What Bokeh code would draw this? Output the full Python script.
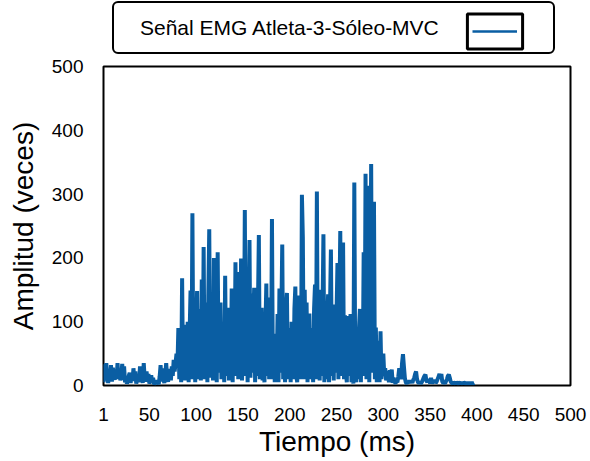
from bokeh.plotting import figure
from bokeh.layouts import column
from bokeh.models import Range1d, FixedTicker, Legend, LegendItem
from bokeh.core.properties import value
from bokeh.embed import file_html
from bokeh.resources import INLINE

reposo = [
    5, 33, 8, 35, 12, 4, 20, 10, 32, 6, 28, 15, 9, 25, 12, 35, 10, 22, 8, 14,
    34, 9, 30, 5, 12, 3, 8, 15, 20, 4, 18, 7, 27, 10, 22, 3, 9, 15, 5, 30,
    8, 18, 4, 35, 12, 6, 22, 10, 18, 3, 8, 16, 5, 12, 2, 4, 8, 3, 6, 2,
    14, 32, 6, 27, 10, 4, 18, 35, 12, 6, 20, 26, 8, 30, 15, 40, 22, 35, 50, 30,
]
activacion = [
    90, 10, 60, 5, 168, 15, 70, 8, 95, 12, 100, 5, 80, 149, 10, 270, 20, 120, 5, 90,
    148, 10, 110, 120, 8, 166, 15, 217, 10, 100, 130, 5, 140, 245, 12, 110, 95, 8, 200, 15,
    150, 5, 209, 20, 120, 130, 10, 100, 85, 5, 172, 15, 110, 122, 8, 90, 20, 152, 5, 100,
    15, 193, 40, 178, 10, 130, 20, 199, 8, 60, 15, 275, 20, 140, 5, 110, 228, 12, 144, 20,
    100, 153, 5, 100, 15, 120, 236, 10, 80, 122, 8, 38, 5, 90, 160, 15, 138, 10, 100, 20,
    261, 10, 80, 5, 81, 12, 112, 5, 152, 20, 110, 221, 10, 83, 5, 120, 145, 10, 90, 65,
    5, 100, 84, 10, 120, 155, 15, 5, 141, 20, 110, 10, 299, 231, 10, 150, 20, 130, 5, 100,
    113, 10, 90, 59, 5, 120, 158, 10, 304, 20, 100, 8, 150, 15, 110, 237, 5, 118, 10, 100,
    143, 5, 120, 213, 15, 107, 8, 127, 20, 110, 192, 10, 120, 242, 15, 100, 224, 10, 110, 20,
    5, 109, 15, 90, 112, 5, 40, 3, 318, 15, 5, 67, 10, 90, 120, 5, 80, 15, 209, 20,
    332, 10, 140, 313, 5, 130, 347, 20, 150, 288, 10, 91, 5, 60, 70, 5, 85, 10, 38, 50,
]
relajacion = [
    15, 27, 8, 20, 22, 5, 24, 10, 25, 4, 12, 6, 3, 8, 5, 14, 27, 20, 10, 35,
    49, 30, 12, 5, 3, 6, 4, 8, 5, 7, 4, 9, 12, 18, 22, 10, 5, 4, 6, 3,
    5, 8, 12, 15, 17, 8, 5, 10, 6, 4, 12, 3, 7, 5, 9, 4, 6, 10, 14, 18,
    12, 18, 6, 4, 5, 3, 7, 10, 15, 17, 12, 6, 4, 3, 5, 4, 3, 5, 4, 3,
    4, 5, 3, 4, 3, 5, 4, 3, 4, 3, 4, 3, 4, 3, 4, 3, 4,
]
amplitud = reposo + activacion + relajacion
tiempo = list(range(1, len(amplitud) + 1))

x_ticks = [1, 50, 100, 150, 200, 250, 300, 350, 400, 450, 500]
y_ticks = [0, 100, 200, 300, 400, 500]
serie = "Señal EMG Atleta-3-Sóleo-MVC"
FONT = "Liberation Sans"
BLUE = "#0a5ea3"
NAN = float("nan")

# ---------------- legend strip (own small figure, frame aligned with chart) ----
top = figure(width=590, height=55, output_backend="svg", toolbar_location=None,
             x_range=Range1d(0, 1), y_range=Range1d(0, 1),
             x_axis_type=None, y_axis_type=None, min_border=0)
top.grid.visible = False
top.outline_line_color = None
top.background_fill_color = "white"
top.border_fill_color = "white"

inv_r = top.rect(x=[NAN], y=[NAN], width=1, height=1, fill_alpha=0, line_alpha=0)
box_r = top.rect(x=[NAN], y=[NAN], width=1, height=1, fill_color=None,
                 line_color="black", line_width=3)
sig_r = top.line(x=[NAN, NAN], y=[NAN, NAN], line_color=BLUE, line_width=2.5)

def clean_legend(lg):
    lg.margin = 0
    lg.border_line_color = None
    lg.background_fill_alpha = 0
    lg.label_standoff = 0
    lg.label_width = 0
    lg.label_text_font_size = "2px"
    lg.label_text_alpha = 0
    lg.padding = 0

leg_text = Legend(items=[LegendItem(label=value(serie), renderers=[inv_r])],
                  location=(9, 1))
leg_text.margin = 0
leg_text.padding = 6
leg_text.glyph_width = 20
leg_text.glyph_height = 37
leg_text.label_standoff = 0
leg_text.label_width = 407
leg_text.label_text_font = FONT
leg_text.label_text_font_size = "21px"
leg_text.label_text_color = "black"
leg_text.border_line_color = "black"
leg_text.border_line_alpha = 1
leg_text.border_line_width = 2.5
leg_text.background_fill_color = "white"
leg_text.background_fill_alpha = 1
try:
    leg_text.border_radius = 6
except Exception:
    pass

leg_box = Legend(items=[LegendItem(label=value(" "), renderers=[box_r])],
                 location=(357, 2))
clean_legend(leg_box)
leg_box.glyph_width = 69
leg_box.glyph_height = 44

leg_sig = Legend(items=[LegendItem(label=value(" "), renderers=[sig_r])],
                 location=(369, 14))
clean_legend(leg_sig)
leg_sig.glyph_width = 45
leg_sig.glyph_height = 20

top.add_layout(leg_text)
top.add_layout(leg_box)
top.add_layout(leg_sig)

# ---------------- main chart ----------------
p = figure(width=590, height=406, output_backend="svg", toolbar_location=None,
           x_range=Range1d(1, 500), y_range=Range1d(0, 500),
           min_border_left=103, min_border_right=20, min_border_top=11,
           min_border_bottom=76)
p.background_fill_color = "white"
p.border_fill_color = "white"
p.grid.visible = False
p.outline_line_color = "black"
p.outline_line_width = 2

p.line(tiempo, amplitud, line_color=BLUE, line_width=4)

for ax in (p.xaxis[0], p.yaxis[0]):
    ax.axis_line_color = None
    ax.major_tick_line_color = None
    ax.minor_tick_line_color = None
    ax.major_label_text_font = FONT
    ax.major_label_text_font_size = "19px"
    ax.major_label_text_color = "black"
    ax.axis_label_text_font = FONT
    ax.axis_label_text_font_size = "28px"
    ax.axis_label_text_font_style = "normal"
    ax.axis_label_text_color = "black"

p.xaxis[0].ticker = FixedTicker(ticks=x_ticks)
p.yaxis[0].ticker = FixedTicker(ticks=y_ticks)
p.xaxis[0].axis_label = "Tiempo (ms)"
p.yaxis[0].axis_label = "Amplitud (veces)"
p.xaxis[0].major_label_standoff = 16
p.xaxis[0].axis_label_standoff = 2
p.yaxis[0].major_label_standoff = 14
p.yaxis[0].axis_label_standoff = 10

layout = column(top, p, spacing=0)
open("out.html", "w").write(file_html(layout, INLINE))
